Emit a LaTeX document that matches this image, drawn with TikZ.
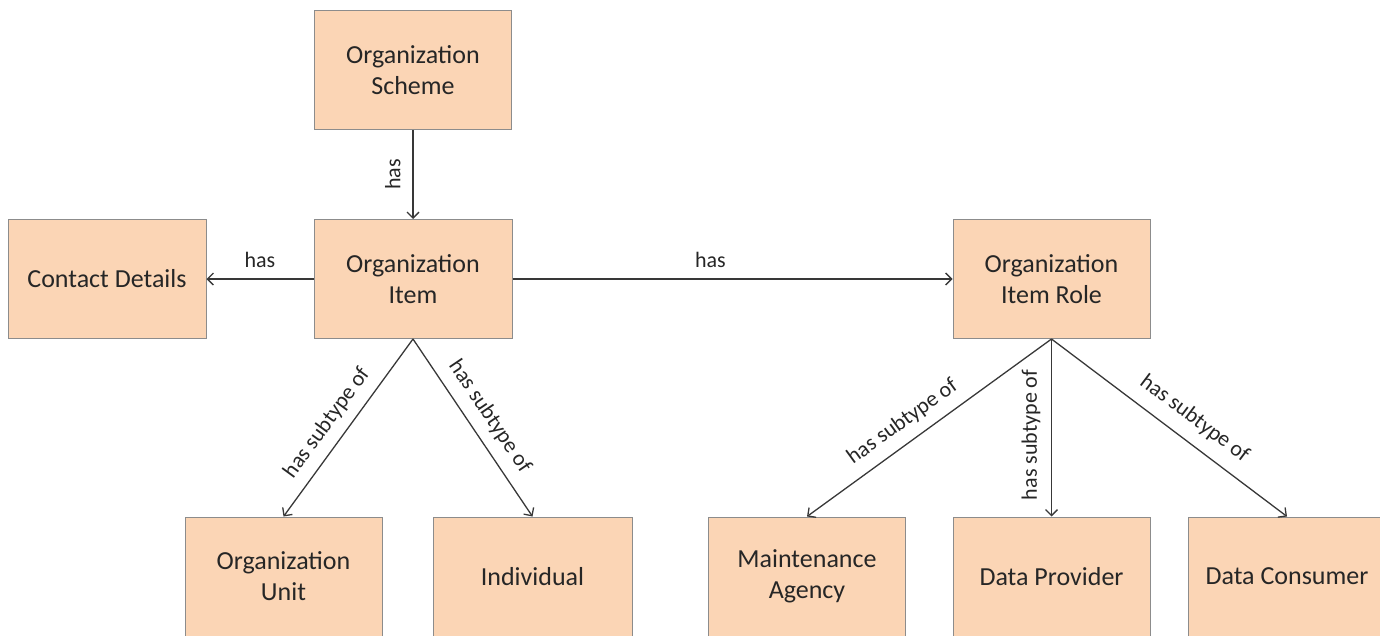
\documentclass[tikz,border=0pt]{standalone}
\usepackage{fontspec}
\setmainfont{Carlito}
\usetikzlibrary{arrows.meta}
\definecolor{boxfill}{HTML}{FBD5B5}
\definecolor{boxline}{HTML}{8C8C8C}
\definecolor{linecol}{HTML}{383838}
\definecolor{txt}{HTML}{262626}
\begin{document}
\begin{tikzpicture}[x=1pt,y=-1pt,
  entity/.style={draw=boxline, line width=1pt, fill=boxfill, minimum width=197pt, minimum height=119pt,
    inner sep=0pt, align=center, text=txt, font=\fontsize{26}{31}\selectfont},
  conn/.style={draw=linecol, line width=1.3pt, -{Straight Barb[length=6pt,width=12pt,line width=1.3pt]}},
  lbl/.style={font=\fontsize{22}{26}\selectfont, text=txt, inner sep=0pt, text height=15.5pt, text depth=5pt}
]
\useasboundingbox (0,0) rectangle (1380,635);
\node[entity] (scheme) at (413,70) {Organization\\Scheme};
\node[entity, minimum width=198pt] (contact) at (107,279) {Contact Details};
\node[entity, minimum width=198pt] (item) at (413,279) {Organization\\Item};
\node[entity] (role) at (1051.5,279) {Organization\\Item Role};
\node[entity] (unit) at (283.5,576.5) {Organization\\Unit};
\node[entity, minimum width=199pt] (indiv) at (532.5,576.5) {Individual};
\node[entity] (maint) at (807,576.5) {Maintenance\\Agency};
\node[entity] (provider) at (1051.5,576.5) {Data Provider};
\node[entity] (consumer) at (1287,576.5) {Data Consumer};

\draw[conn] (scheme.south) -- node[lbl, pos=0.5, xshift=-7pt, rotate=90, anchor=south] {has} (item.north);
\draw[conn] (item.west) -- node[lbl, pos=0.5, above=6pt] {has} (contact.east);
\draw[conn] (item.east) -- node[lbl, pos=0.45, above=6pt] {has} (role.west);
\draw[conn] (item.south) -- node[lbl, pos=0.54, sloped, above=8.5pt] {has subtype of} (unit.north);
\draw[conn] (item.south) -- node[lbl, pos=0.50, sloped, above=9pt] {has subtype of} (indiv.north);
\draw[conn] (role.south) -- node[lbl, pos=0.56, sloped, above=9pt] {has subtype of} (maint.north);
\draw[conn] (role.south) -- node[lbl, pos=0.54, xshift=-9pt, rotate=90, anchor=south] {has subtype of} (provider.north);
\draw[conn] (role.south) -- node[lbl, pos=0.55, sloped, above=11pt] {has subtype of} (consumer.north);
\end{tikzpicture}
\end{document}
